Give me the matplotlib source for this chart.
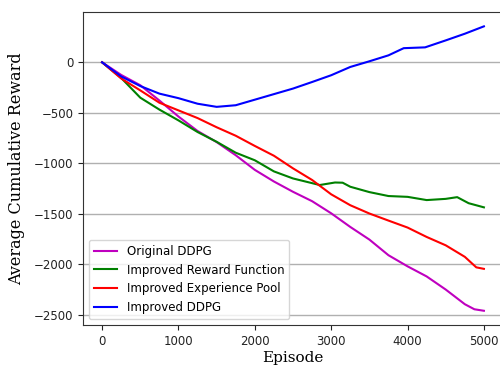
import matplotlib
matplotlib.use("Agg")
import matplotlib.pyplot as plt

episodes = [0, 250, 500, 750, 1000, 1250, 1500, 1750, 2000, 2250, 2500,
            2750, 3000, 3250, 3500, 3750, 4000, 4250, 4500, 4750, 5000]

original_x = episodes[:-1] + [4875, 5000]
original_ddpg = [0, -125, -227, -378, -537, -680, -790, -920, -1065, -1180, -1282,
                 -1375, -1495, -1630, -1755, -1910, -2020, -2120, -2250, -2395, -2445, -2460]

reward_x = [0, 250, 500, 750, 1000, 1250, 1500, 1750, 2000, 2250, 2500,
            2850, 3050, 3150, 3250, 3500, 3750, 4000, 4250, 4500, 4650, 4800, 5000]
improved_reward = [0, -155, -350, -468, -575, -690, -787, -895, -970, -1080, -1150,
                   -1215, -1190, -1192, -1232, -1285, -1324, -1332, -1364, -1352, -1335, -1395, -1436]

pool_x = episodes[:-1] + [4900, 5000]
improved_pool = [0, -160, -278, -400, -476, -552, -643, -727, -828, -925, -1050,
                 -1165, -1307, -1415, -1497, -1567, -1636, -1729, -1812, -1926, -2030, -2045]

ddpg_x = [0, 250, 500, 750, 1000, 1250, 1500, 1750, 2000, 2250, 2500,
          2750, 3000, 3250, 3500, 3750, 3950, 4230, 4500, 4750, 5000]
improved_ddpg = [0, -140, -235, -310, -355, -410, -441, -425, -370, -315, -260,
                 -195, -128, -46, 10, 69, 140, 148, 217, 283, 356]

labels = ["Original DDPG", "Improved Reward Function",
          "Improved Experience Pool", "Improved DDPG"]
colors = ["m", "g", "r", "b"]

fig = plt.figure(figsize=(5.0, 3.67), dpi=100)
ax = fig.add_axes([0.166, 0.1144, 0.84, 0.8526])

for xs, ys, lab, c in zip([original_x, reward_x, pool_x, ddpg_x],
                          [original_ddpg, improved_reward, improved_pool, improved_ddpg],
                          labels, colors):
    ax.plot(xs, ys, color=c, lw=1.5, label=lab)

ax.set_xlim(-250, 5250)
ax.set_ylim(-2601, 497)
ax.set_xticks([0, 1000, 2000, 3000, 4000, 5000])
ax.set_yticks([0, -500, -1000, -1500, -2000, -2500])
ax.yaxis.grid(True, color="#b0b0b0", lw=1)
ax.set_axisbelow(True)
ax.tick_params(labelsize=8.5, colors="#222222", length=3.5)
for s in ax.spines.values():
    s.set_color("#333333")

ax.set_xlabel("Episode", family="DejaVu Serif", fontsize=11, labelpad=2)
ax.set_ylabel("Average Cumulative Reward", family="DejaVu Serif", fontsize=11.5, labelpad=6)
ax.legend(loc="lower left", fontsize=8.5, framealpha=0.8)

fig.savefig("out.png", dpi=100)
